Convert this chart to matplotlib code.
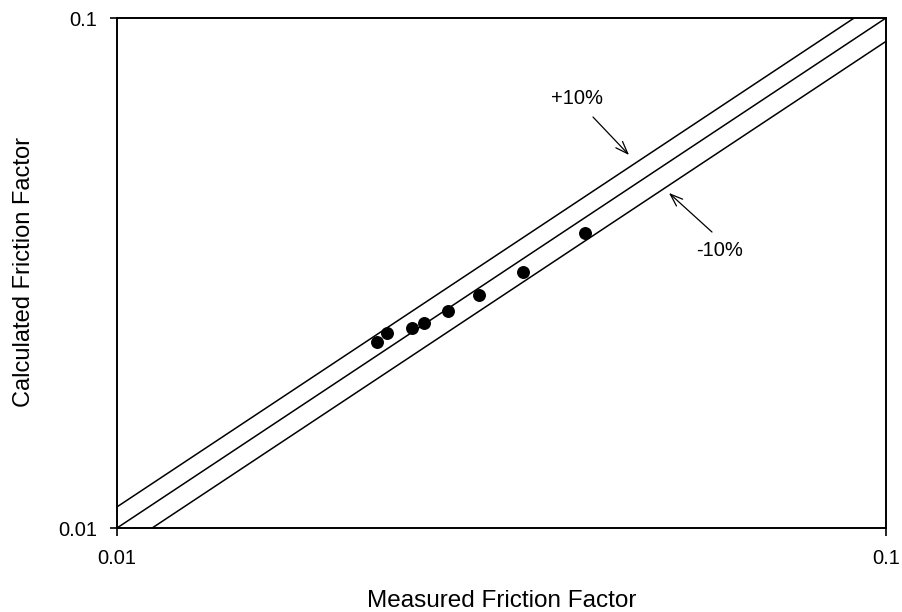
import matplotlib
matplotlib.use("Agg")
import matplotlib.pyplot as plt
import numpy as np

plt.rcParams['font.family'] = ['Liberation Sans', 'DejaVu Sans']

# Measured vs. calculated friction factor
measured = [0.02176, 0.02242, 0.02421, 0.02510, 0.02697, 0.02959, 0.03370, 0.04061]
calculated = [0.02319, 0.02415, 0.02464, 0.02526, 0.02668, 0.02863, 0.03177, 0.03784]

# Reference lines: perfect agreement and +/-10 %
band_factors = [1.1, 1.0, 0.9]
axis_limits = [0.01, 0.1]
tick_values = [0.01, 0.1]
tick_labels = ["0.01", "0.1"]

# Band annotations: (label, text position, arrow start, arrow tip) in data units
band_notes = [
    ("+10%", (0.03964, 0.06967), (0.04159, 0.06395), (0.04633, 0.05387)),
    ("-10%", (0.06083, 0.03508), (0.05939, 0.03805), (0.05221, 0.04539)),
]

fig = plt.figure(figsize=(9.03, 6.12), dpi=100)
ax = fig.add_axes([117/903, 1-528/612, (886-117)/903, (528-18)/612])

ax.set_xscale('log')
ax.set_yscale('log')
ax.set_xlim(axis_limits)
ax.set_ylim(axis_limits)

xs = np.array([0.005, 0.2])
for f in band_factors:
    ax.plot(xs, f * xs, color='black', lw=1.1)

ax.plot(measured, calculated, 'o', color='black', markersize=8.3, zorder=3)

ax.set_xticks(tick_values)
ax.set_xticklabels(tick_labels)
ax.set_yticks(tick_values)
ax.set_yticklabels(tick_labels)
ax.minorticks_off()
ax.tick_params(direction='out', length=5.4, width=1.2, labelsize=14.5)
ax.tick_params(axis='x', pad=9.5)
ax.tick_params(axis='y', pad=8.6)
for s in ax.spines.values():
    s.set_linewidth(1.4)

ax.set_xlabel('Measured Friction Factor', fontsize=17.5)
ax.xaxis.set_label_coords(501.5/903, 5/612, transform=fig.transFigure)
ax.xaxis.label.set_va('baseline')
ax.set_ylabel('Calculated Friction Factor', fontsize=17)
ax.yaxis.set_label_coords(24/903, 1-272/612, transform=fig.transFigure)
ax.yaxis.label.set_va('center')

arrow = dict(arrowstyle='->,head_length=0.9,head_width=0.33', color='black',
             lw=0.9, shrinkA=0, shrinkB=0)
for label, text_pos, start, tip in band_notes:
    ax.text(*text_pos, label, fontsize=14.5, ha='center', va='center')
    ax.annotate('', xy=tip, xytext=start, arrowprops=arrow)

fig.savefig('out.png', dpi=100)
